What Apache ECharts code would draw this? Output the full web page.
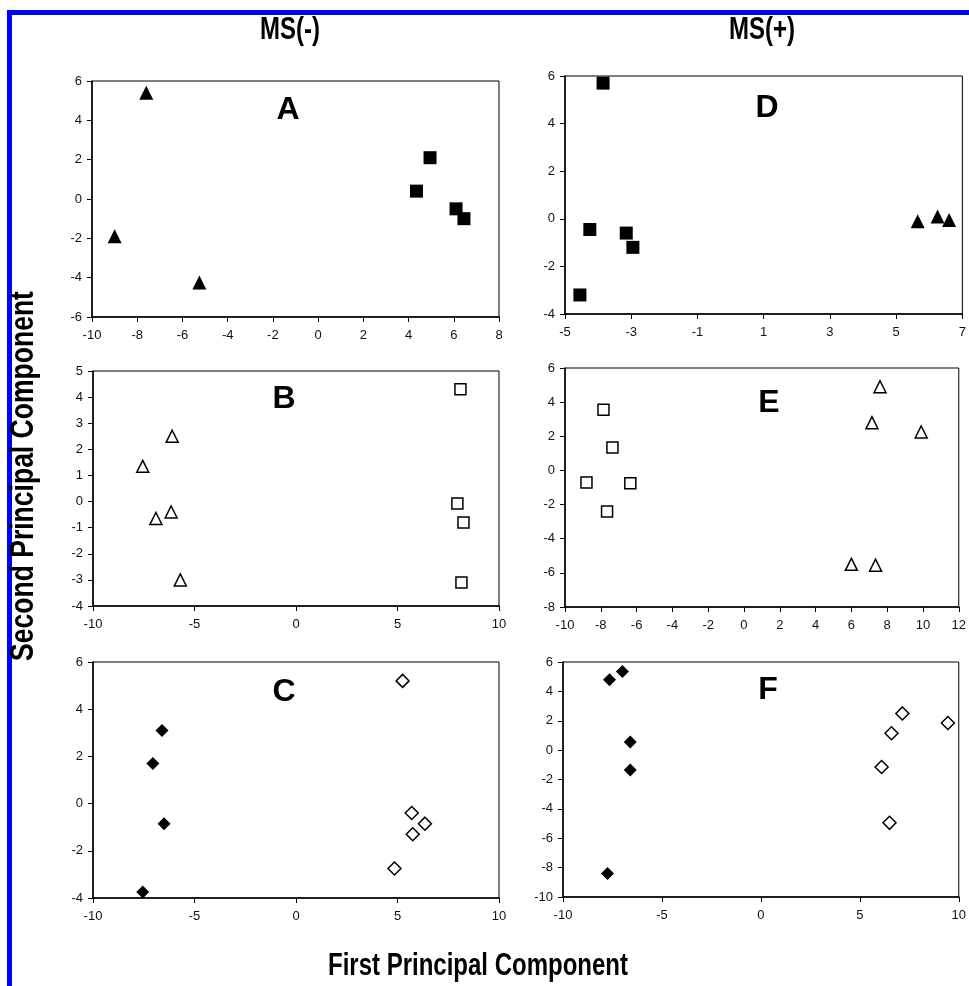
<!DOCTYPE html>
<html lang="en">
<head>
    <meta charset="UTF-8">
    <title>PCA scores</title>
    <script src="https://cdn.jsdelivr.net/npm/echarts@6/dist/echarts.min.js"></script>
    <style>
        html, body { margin: 0; padding: 0; background: #fff; }
    </style>
</head>
<body>
<div id="main" style="width: 969px;height:986px"></div>
<script>
    // panel A : MS(-)
    var aTri = [[-7.6, 5.4], [-9.0, -1.9], [-5.25, -4.25]];
    var aSq = [[4.35, 0.4], [4.95, 2.1], [6.1, -0.5], [6.45, -1.0]];
    // panel D : MS(+)
    var dSq = [[-3.85, 5.7], [-4.25, -0.45], [-3.15, -0.6], [-2.95, -1.2], [-4.55, -3.2]];
    var dTri = [[5.65, -0.1], [6.25, 0.1], [6.6, -0.05]];
    // panel B
    var bTri = [[-6.1, 2.5], [-7.55, 1.35], [-6.15, -0.4], [-6.9, -0.65], [-5.7, -3.0]];
    var bSq = [[8.1, 4.3], [7.95, -0.07], [8.25, -0.8], [8.15, -3.1]];
    // panel E
    var eSq = [[-7.85, 3.55], [-7.35, 1.35], [-8.8, -0.7], [-6.35, -0.75], [-7.65, -2.4]];
    var eTri = [[7.6, 4.9], [7.15, 2.8], [9.9, 2.25], [6.0, -5.5], [7.35, -5.55]];
    // panel C
    var cFill = [[-6.6, 3.1], [-7.05, 1.7], [-6.5, -0.85], [-7.55, -3.75]];
    var cOpen = [[5.25, 5.2], [5.7, -0.4], [6.35, -0.85], [5.75, -1.3], [4.85, -2.75]];
    // panel F
    var fFill = [[-7.65, 4.8], [-7.0, 5.35], [-6.6, 0.55], [-6.6, -1.35], [-7.75, -8.4]];
    var fOpen = [[7.15, 2.5], [9.45, 1.85], [6.6, 1.15], [6.1, -1.15], [6.5, -4.95]];

    // axis ranges [min, max, interval], order A, D, B, E, C, F
    var xRanges = [[-10, 8, 2], [-5, 7, 2], [-10, 10, 5], [-10, 12, 2], [-10, 10, 5], [-10, 10, 5]];
    var yRanges = [[-6, 6, 2], [-4, 6, 2], [-4, 5, 1], [-8, 6, 2], [-4, 6, 2], [-10, 6, 2]];
    var dXTicks = [-5, -3, -1, 1, 3, 5, 7];
    var panelNames = ['A', 'D', 'B', 'E', 'C', 'F'];

    var grids = [
        {left: 92, top: 81, width: 407, height: 236},
        {left: 565, top: 76, width: 402, height: 238},
        {left: 93, top: 371, width: 406, height: 235},
        {left: 565, top: 368, width: 402, height: 239},
        {left: 93, top: 662, width: 406, height: 236},
        {left: 563, top: 662, width: 402, height: 235}
    ];

    var chart = echarts.init(document.getElementById('main'));

    var labelFont = {color: '#111', fontSize: 13, fontFamily: 'Liberation Sans, Arial, sans-serif'};
    var bigFont = 'Liberation Sans, Arial, sans-serif';

    var xAxes = [], yAxes = [];
    for (var i = 0; i < 6; i++) {
        grids[i].show = true;
        grids[i].borderColor = '#000';
        grids[i].borderWidth = 1;
        grids[i].backgroundColor = '#fff';
        var xa = {
            type: 'value', gridIndex: i,
            min: xRanges[i][0], max: xRanges[i][1], interval: xRanges[i][2],
            axisLine: {show: true, onZero: false, lineStyle: {color: '#000', width: 1.5}},
            axisTick: {show: true, inside: false, length: 5, lineStyle: {color: '#000'}},
            axisLabel: Object.assign({margin: 12}, labelFont),
            splitLine: {show: false}
        };
        if (i === 1) {
            xa.interval = 1;
            xa.axisTick.customValues = dXTicks;
            xa.axisLabel.customValues = dXTicks;
        }
        xAxes.push(xa);
        yAxes.push({
            type: 'value', gridIndex: i,
            min: yRanges[i][0], max: yRanges[i][1], interval: yRanges[i][2],
            axisLine: {show: true, onZero: false, lineStyle: {color: '#000', width: 1.5}},
            axisTick: {show: true, inside: false, length: 5, lineStyle: {color: '#000'}},
            axisLabel: Object.assign({margin: 10}, labelFont),
            splitLine: {show: false}
        });
    }

    var filled = {color: '#000', opacity: 1};
    var open = {color: '#fff', borderColor: '#000', borderWidth: 1.5, opacity: 1};

    function sc(idx, data, symbol, size, style) {
        return {
            type: 'scatter', xAxisIndex: idx, yAxisIndex: idx,
            data: data, symbol: symbol, symbolSize: size,
            itemStyle: style, z: 5
        };
    }

    var series = [
        sc(0, aTri, 'triangle', 14, filled),
        sc(0, aSq, 'rect', 13, filled),
        sc(1, dSq, 'rect', 13, filled),
        sc(1, dTri, 'triangle', 14, filled),
        sc(2, bTri, 'triangle', 12, open),
        sc(2, bSq, 'rect', 11, open),
        sc(3, eSq, 'rect', 11, open),
        sc(3, eTri, 'triangle', 12, open),
        sc(4, cFill, 'diamond', [13, 13], filled),
        sc(4, cOpen, 'diamond', [13, 13], open),
        sc(5, fFill, 'diamond', [13, 13], filled),
        sc(5, fOpen, 'diamond', [13, 13], open)
    ];

    // panel letter positions (centres)
    var letterPos = [[288, 110], [767, 108], [284, 399], [769, 403], [284, 692], [768, 690]];

    function bigText(txt, x, y, size, sx, rot) {
        return {
            type: 'text', x: x, y: y, z: 10, scaleX: sx, rotation: rot || 0,
            style: {text: txt, font: 'bold ' + size + 'px ' + bigFont, fill: '#000', textAlign: 'center', textVerticalAlign: 'middle'}
        };
    }

    var graphic = [
        // blue frame
        {type: 'rect', shape: {x: 7, y: 10, width: 962, height: 5}, style: {fill: '#0000ff'}, z: 1},
        {type: 'rect', shape: {x: 7, y: 10, width: 5, height: 976}, style: {fill: '#0000ff'}, z: 1},
        bigText('MS(-)', 290, 30, 32, 0.75),
        bigText('MS(+)', 762, 30, 32, 0.75),
        bigText('First Principal Component', 478, 966, 32, 0.75),
        bigText('Second Principal Component', 24, 476, 34, 0.78, Math.PI / 2)
    ];
    for (var k = 0; k < 6; k++) {
        graphic.push({
            type: 'text', x: letterPos[k][0], y: letterPos[k][1], z: 10,
            style: {text: panelNames[k], font: 'bold 32px Liberation Sans, Arial, sans-serif', fill: '#000', textAlign: 'center', textVerticalAlign: 'middle'}
        });
    }

    var option = {
        backgroundColor: '#fff',
        animation: false,
        grid: grids,
        xAxis: xAxes,
        yAxis: yAxes,
        series: series,
        graphic: graphic
    };
    chart.setOption(option);
</script>
</body>
</html>
